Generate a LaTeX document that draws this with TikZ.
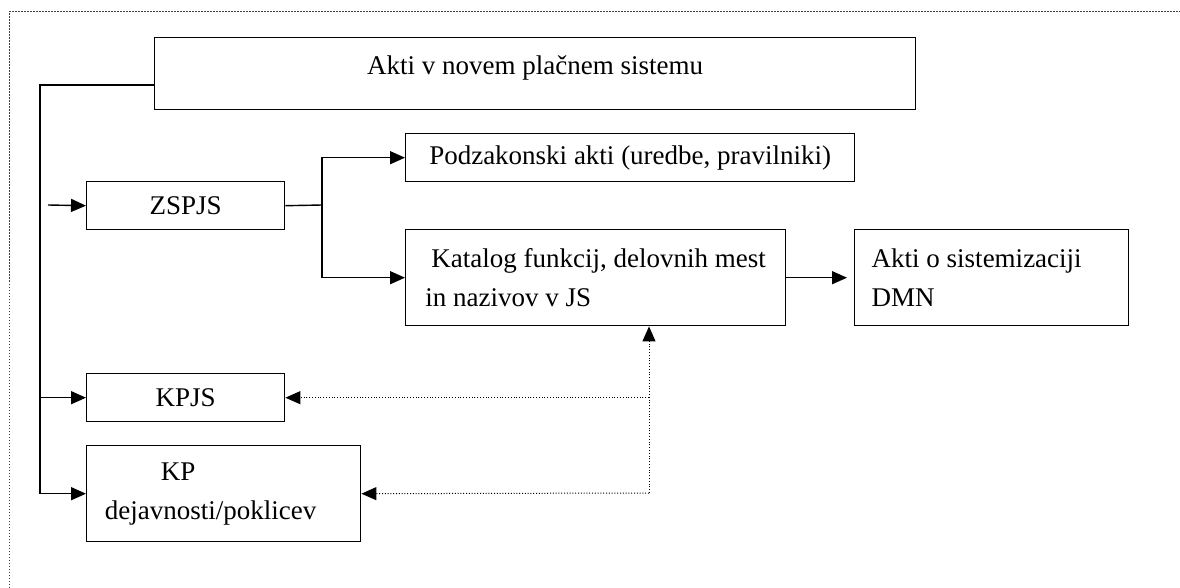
\documentclass[tikz,border=0pt]{standalone}
\usepackage{fontspec}
\setmainfont{Liberation Serif}
\usetikzlibrary{arrows.meta}
\begin{document}
\begin{tikzpicture}[x=1pt,y=-1pt,
  box/.style={draw, line width=1.4pt, rectangle, inner sep=0pt, anchor=north west, font=\fontsize{27}{39}\selectfont},
  conn/.style={line width=1.4pt},
  arr/.style={conn, -{Triangle[length=15pt,width=13pt]}},
  dotarr/.style={line width=1pt, dash pattern=on 1pt off 1.8pt, -{Triangle[length=15pt,width=13pt]}},
  frame/.style={line width=1pt, black!75, dash pattern=on 1.5pt off 1.5pt}]
\useasboundingbox (0,0) rectangle (1180,588);
\draw[frame] (9,588) -- (9,12) -- (1180,12);

\node[box, minimum width=761pt, minimum height=72pt, text depth=17.6pt] (top) at (154,37) {Akti v novem plačnem sistemu};
\node[box, minimum width=198pt, minimum height=48pt] (zspjs) at (86,181) {ZSPJS};
\node[box, minimum width=449pt, minimum height=48pt] (pod) at (405,133) {Podzakonski akti (uredbe, pravilniki)};
\node[box, minimum width=380pt, minimum height=96pt, align=left] (kat) at (405,229) {\hspace*{6pt}Katalog funkcij, delovnih mest\\in nazivov v JS};
\node[box, minimum width=274pt, minimum height=96pt, align=left] (akt) at (854,229) {Akti o sistemizaciji\hspace*{30pt}\\DMN};
\node[box, minimum width=198pt, minimum height=48pt] (kpjs) at (86,373) {KPJS};
\node[box, minimum width=274pt, minimum height=96pt, align=left] (kp) at (86,445) {\hspace*{56pt}KP\\dejavnosti/poklicev\hspace*{26pt}};

\coordinate (tr1) at (40,85);
\coordinate (zin) at (48,205);
\coordinate (sp) at (322,205);
\coordinate (dv) at (649,493);

\draw[arr] (top.west |- tr1) -- (tr1) -- (kp.west -| tr1) -- (kp.west);
\draw[arr] (kpjs.west -| tr1) -- (kpjs.west);
\draw[arr] (zin) -- (zspjs.west);
\draw[conn] (zspjs.east) -- (sp);
\draw[arr] (sp) |- (pod.west);
\draw[arr] (sp) |- (kat.west);
\draw[arr, shorten >=7pt] (kat.east) -- (akt.west);
\draw[dotarr] (dv) -- (kat.south -| dv);
\draw[dotarr] (dv) -- (kp.east);
\draw[dotarr] (dv |- kpjs.east) -- (kpjs.east);
\end{tikzpicture}
\end{document}
